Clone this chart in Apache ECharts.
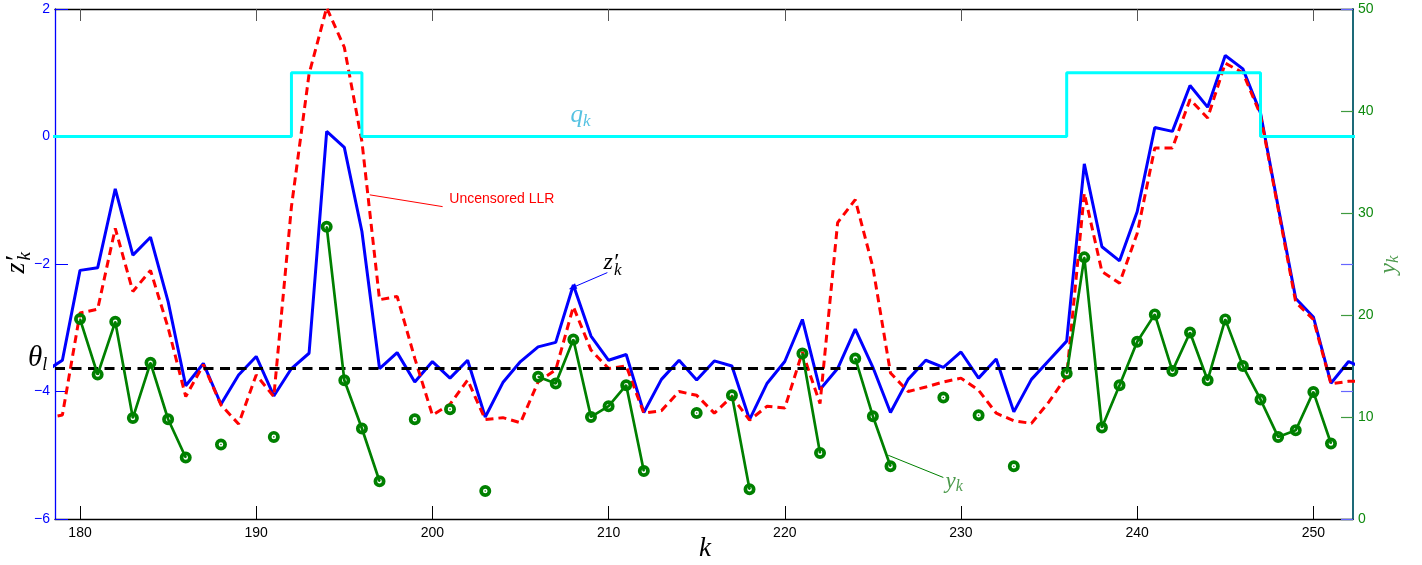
<!DOCTYPE html>
<html><head><meta charset="utf-8">
<script src="https://cdn.jsdelivr.net/npm/echarts@6/dist/echarts.min.js"></script>
<style>html,body{margin:0;padding:0;background:#fff}#c{width:1422px;height:565px}</style>
</head><body><div id="c"></div>
<script>
// ---------- data ----------
const kValues = [178,179,180,181,182,183,184,185,186,187,
  188,189,190,191,192,193,194,195,196,197,
  198,199,200,201,202,203,204,205,206,207,
  208,209,210,211,212,213,214,215,216,217,
  218,219,220,221,222,223,224,225,226,227,
  228,229,230,231,232,233,234,235,236,237,
  238,239,240,241,242,243,244,245,246,247,
  248,249,250,251,252,253];
const zPrime = [-3.69,-3.51,-2.10,-2.06,-0.82,-1.86,-1.58,-2.59,-3.91,-3.56,
  -4.20,-3.74,-3.45,-4.07,-3.64,-3.40,0.08,-0.17,-1.49,-3.64,
  -3.39,-3.85,-3.53,-3.79,-3.51,-4.40,-3.86,-3.53,-3.30,-3.23,
  -2.33,-3.13,-3.51,-3.42,-4.33,-3.81,-3.51,-3.82,-3.52,-3.60,
  -4.44,-3.87,-3.53,-2.87,-3.97,-3.64,-3.02,-3.62,-4.33,-3.81,
  -3.51,-3.62,-3.38,-3.79,-3.49,-4.32,-3.81,-3.51,-3.21,-0.43,
  -1.73,-1.95,-1.18,0.14,0.08,0.80,0.46,1.27,1.06,0.37,
  -1.10,-2.54,-2.83,-3.87,-3.53,-3.65];
const uncensoredLLR = [-4.42,-4.37,-2.77,-2.71,-1.44,-2.43,-2.10,-3.00,-4.08,-3.58,
  -4.21,-4.51,-3.74,-4.08,-1.10,0.98,2.02,1.40,-0.08,-2.56,
  -2.51,-3.48,-4.37,-4.20,-3.82,-4.44,-4.41,-4.49,-3.85,-3.66,
  -2.67,-3.35,-3.64,-3.60,-4.34,-4.30,-4.00,-4.06,-4.34,-4.08,
  -4.45,-4.23,-4.26,-3.38,-4.19,-1.35,-0.99,-2.05,-3.71,-4.00,
  -3.93,-3.85,-3.79,-3.98,-4.34,-4.46,-4.50,-4.16,-3.76,-0.89,
  -2.12,-2.30,-1.52,-0.18,-0.18,0.58,0.29,1.15,1.00,0.34,
  -1.13,-2.60,-2.87,-3.88,-3.84,-3.84];
const yObs = [null,null,19.60,14.17,19.33,9.91,15.31,9.78,6.03,null,
  7.30,null,null,8.05,null,null,28.66,13.61,8.87,3.70,
  null,9.78,null,10.77,null,2.75,null,null,13.94,13.29,
  17.60,10.01,11.06,13.12,4.71,null,null,10.40,null,12.14,
  2.91,null,null,16.23,6.48,null,15.74,10.08,5.17,null,
  null,11.91,null,10.18,null,5.17,null,null,14.27,25.65,
  8.97,13.12,17.37,20.06,14.52,18.29,13.61,19.57,14.99,11.72,
  8.05,8.70,12.46,7.40,null,null];
const qState = [0,0,0,0,0,0,0,0,0,0,
  0,0,0,0,1,1,1,1,0,0,
  0,0,0,0,0,0,0,0,0,0,
  0,0,0,0,0,0,0,0,0,0,
  0,0,0,0,0,0,0,0,0,0,
  0,0,0,0,0,0,0,0,1,1,
  1,1,1,1,1,1,1,1,1,0,
  0,0,0,0,0,0];
const thetaL = -3.63;
const xTicks = [180,190,200,210,220,230,240,250];
const xRange = [178.58, 252.25];
const leftRange = [-6, 2];
const rightRange = [0, 50];

// ---------- styling ----------
const SERIF = '"Liberation Serif","DejaVu Serif",serif';
const SANS = '"Liberation Sans",Arial,Helvetica,sans-serif';
const BLUE = '#0000ff', RED = '#ff0000', CYAN = '#00ffff', GREEN = '#008000';

const pairs = arr => kValues.map((k, i) => [k, arr[i] == null ? '-' : arr[i]]);
const minus = v => String(v).replace('-', '\u2212');
const RING = 'path://M10,0A10,10 0 1,1 10,20A10,10 0 1,1 10,0Z M10,6.2A3.8,3.8 0 1,0 10,13.8A3.8,3.8 0 1,0 10,6.2Z M10,8.7A1.3,1.3 0 1,1 10,11.3A1.3,1.3 0 1,1 10,8.7Z';

const chart = echarts.init(document.getElementById('c'), null, {renderer: 'canvas', width: 1422, height: 565});

const option = {
  animation: false,
  backgroundColor: '#ffffff',
  grid: {left: 55, right: 69, top: 9, bottom: 46, containLabel: false, outerBoundsMode: 'none'},
  xAxis: [
    {type: 'value', min: xRange[0], max: xRange[1], position: 'bottom',
     axisLine: {onZero: false, lineStyle: {color: '#000', width: 1.3}},
     axisTick: {inside: true, length: 13, customValues: xTicks, lineStyle: {color: '#000', width: 1}},
     axisLabel: {customValues: xTicks, color: '#000', fontSize: 14, fontFamily: SANS, margin: 7},
     splitLine: {show: false}},
    {type: 'value', min: xRange[0], max: xRange[1], position: 'top',
     axisLine: {onZero: false, lineStyle: {color: '#000', width: 1.3}},
     axisTick: {inside: true, length: 12, customValues: xTicks, lineStyle: {color: '#555', width: 1}},
     axisLabel: {show: false}, splitLine: {show: false}}
  ],
  yAxis: [
    {type: 'value', min: leftRange[0], max: leftRange[1], interval: 2, position: 'left',
     axisLine: {show: true, onZero: false, lineStyle: {color: BLUE, width: 1.3}},
     axisTick: {show: true, inside: true, length: 13, lineStyle: {color: BLUE, width: 1}},
     axisLabel: {color: BLUE, fontSize: 14, fontFamily: SANS, margin: 5, formatter: minus},
     splitLine: {show: false}},
    {type: 'value', min: rightRange[0], max: rightRange[1], interval: 10, position: 'right',
     axisLine: {show: true, onZero: false, lineStyle: {color: '#1d6a78', width: 2}},
     axisTick: {show: true, inside: true, length: 12, lineStyle: {color: '#3f9a3f', width: 1.2}},
     axisLabel: {color: '#0f8a0f', fontSize: 14, fontFamily: SANS, margin: 5},
     splitLine: {show: false}},
    {type: 'value', min: leftRange[0], max: leftRange[1], interval: 2, position: 'right',
     axisLine: {show: false},
     axisTick: {show: true, inside: true, length: 12, lineStyle: {color: '#6666ff', width: 1.2}},
     axisLabel: {show: false}, splitLine: {show: false}}
  ],
  series: [
    {type: 'line', name: 'zk', data: pairs(zPrime), xAxisIndex: 0, yAxisIndex: 0,
     showSymbol: false, z: 2, lineStyle: {color: BLUE, width: 3}, itemStyle: {color: BLUE},
     markLine: {silent: true, symbol: ['none', 'none'], label: {show: false}, emphasis: {disabled: true},
       data: [[{coord: [209.93, -2.135], symbol: 'none'},
               {coord: [207.95, -2.37], symbol: 'triangle', symbolSize: [6, 8]}]],
       lineStyle: {color: BLUE, width: 1, type: 'solid'}}},
    {type: 'line', name: 'llr', data: pairs(uncensoredLLR), xAxisIndex: 0, yAxisIndex: 0,
     showSymbol: false, z: 3, lineStyle: {color: RED, width: 3, type: [8, 5]}, itemStyle: {color: RED},
     markLine: {silent: true, symbol: ['none', 'none'], label: {show: false}, emphasis: {disabled: true},
       data: [[{coord: [196.44, -0.915]}, {coord: [200.58, -1.10]}]],
       lineStyle: {color: RED, width: 1, type: 'solid'}}},
    {type: 'line', name: 'qk', data: pairs(qState), xAxisIndex: 0, yAxisIndex: 0, step: 'end',
     showSymbol: false, z: 4, lineStyle: {color: CYAN, width: 3}, itemStyle: {color: CYAN},
     markLine: {silent: true, symbol: ['none', 'none'], label: {show: false}, emphasis: {disabled: true},
       data: [{yAxis: thetaL}],
       lineStyle: {color: '#000', width: 3, type: [10, 6.5]}}},
    {type: 'line', name: 'yk', data: pairs(yObs), xAxisIndex: 0, yAxisIndex: 1,
     connectNulls: false, showSymbol: true, showAllSymbol: true, symbol: RING, symbolSize: 12, z: 6,
     lineStyle: {color: GREEN, width: 2.7}, itemStyle: {color: GREEN, borderWidth: 0},
     markLine: {silent: true, symbol: ['none', 'none'], label: {show: false}, emphasis: {disabled: true},
       data: [[{coord: [225.87, 6.25]}, {coord: [229.0, 4.07]}]],
       lineStyle: {color: GREEN, width: 1, type: 'solid'}}}
  ]
};
chart.setOption(option);

// ---------- text annotations ----------
const mctx = document.createElement('canvas').getContext('2d');
function measure(str, font) { mctx.font = font; return mctx.measureText(str).width; }
function px(k, v, yi) { return chart.convertToPixel({xAxisIndex: 0, yAxisIndex: yi || 0}, [k, v]); }

function mathText(s) {
  const bf = 'italic ' + s.size + 'px ' + SERIF;
  const sf = 'italic ' + s.subSize + 'px ' + SERIF;
  const wb = measure(s.base, bf);
  const ws = s.sub ? measure(s.sub, sf) : 0;
  const dx = s.subDx || 0;
  const total = wb + ws + dx;
  const p = px(s.k, s.v, s.yi);
  const kids = [{type: 'text', x: -total / 2, y: 0,
    style: {text: s.base, font: bf, fill: s.color, textAlign: 'left', textVerticalAlign: 'middle', align: 'left', verticalAlign: 'middle'}}];
  if (s.sub) kids.push({type: 'text', x: -total / 2 + wb + dx, y: s.subDy,
    style: {text: s.sub, font: sf, fill: s.color, textAlign: 'left', textVerticalAlign: 'middle', align: 'left', verticalAlign: 'middle'}});
  return {type: 'group', x: p[0], y: p[1], rotation: s.rot || 0, silent: true, children: kids};
}

const mathLabels = [
  {base: 'q', sub: 'k', size: 25, subSize: 17, subDy: 6, k: 208.40, v: 0.33, color: '#55c2e2'},
  {base: 'z\u2032', sub: 'k', size: 24, subSize: 17, subDy: 8, subDx: -4, k: 210.22, v: -1.98, color: '#000'},
  {base: 'y', sub: 'k', size: 23, subSize: 16, subDy: 5, k: 229.61, v: 3.6, yi: 1, color: '#4d9a4d'},
  {base: '\u03b8', sub: 'l', size: 29, subSize: 18, subDy: 7, k: 177.59, v: -3.48, color: '#000'},
  {base: 'z\u2032', sub: 'k', size: 28, subSize: 19, subDy: 8, subDx: -4, k: 176.40, v: -1.98, color: '#000', rot: Math.PI / 2},
  {base: 'y', sub: 'k', size: 24, subSize: 17, subDy: 5, k: 254.29, v: -2.01, color: '#4d9a4d', rot: Math.PI / 2},
  {base: 'k', size: 27, subSize: 18, k: 215.47, v: -6.47, color: '#000'}
];

const graphics = mathLabels.map(mathText);
const llrPos = px(200.96, -0.99, 0);
graphics.push({type: 'text', x: llrPos[0], y: llrPos[1], silent: true,
  style: {text: 'Uncensored LLR', font: '14px ' + SANS, fill: RED, textAlign: 'left', textVerticalAlign: 'middle', align: 'left', verticalAlign: 'middle'}});

chart.setOption({graphic: graphics});
</script>
</body></html>
